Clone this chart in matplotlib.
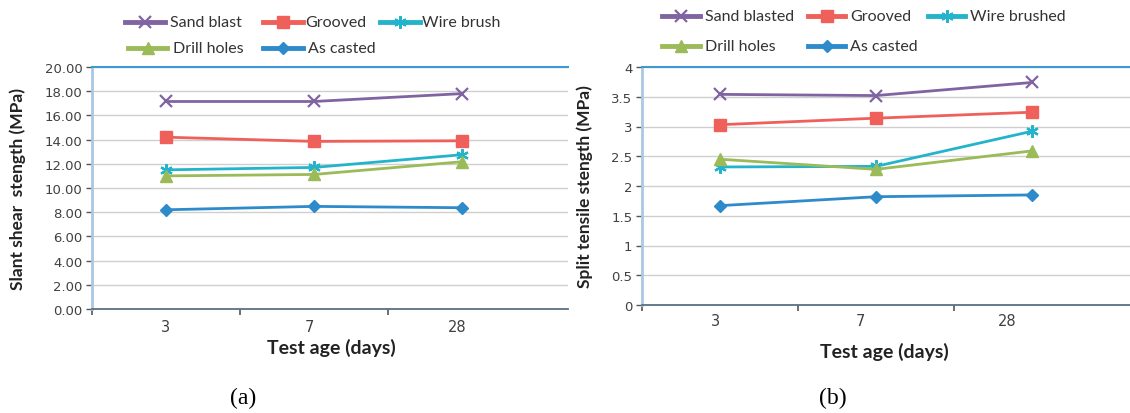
import matplotlib
matplotlib.use("Agg")
import matplotlib.pyplot as plt
from matplotlib.lines import Line2D

plt.rcParams['font.family'] = ['Lato', 'DejaVu Sans']

ages = ["3", "7", "28"]

# (a) Slant shear strength (MPa)
shear_sand = [17.15, 17.15, 17.8]
shear_grooved = [14.2, 13.85, 13.9]
shear_wire = [11.5, 11.7, 12.75]
shear_drill = [11.0, 11.12, 12.17]
shear_cast = [8.2, 8.48, 8.37]
shear_yticks = [0, 2, 4, 6, 8, 10, 12, 14, 16, 18, 20]

# (b) Split tensile strength (MPa)
split_sand = [3.54, 3.52, 3.74]
split_grooved = [3.03, 3.14, 3.24]
split_wire = [2.32, 2.33, 2.92]
split_drill = [2.45, 2.28, 2.59]
split_cast = [1.67, 1.82, 1.85]
split_yticks = [0, 0.5, 1, 1.5, 2, 2.5, 3, 3.5, 4]

labels_a = ["Sand blast", "Grooved", "Wire brush", "Drill holes", "As casted"]
labels_b = ["Sand blasted", "Grooved", "Wire brushed", "Drill holes", "As casted"]

colors = ["#8064A2", "#F0605A", "#23B4CC", "#9BBB59", "#2E8BCB"]
markers = ["x", "s", (6, 2, 0), "^", "D"]
msizes = [8, 9, 9, 9, 6]

W, H = 1130, 414
fig = plt.figure(figsize=(W / 100, H / 100), dpi=100)

def px_axes(x0, x1, ytop, ybot):
    return fig.add_axes([x0 / W, 1 - ybot / H, (x1 - x0) / W, (ybot - ytop) / H])

ax1 = px_axes(92, 568, 68, 310)
ax2 = px_axes(642, 1130, 68, 306)

def legend(labels, slots):
    # slots: (handle x0, handle x1, text x, y) in pixels
    for lab, c, m, ms, (x0, x1, tx, y) in zip(labels, colors, markers, msizes, slots):
        mew = 1.6 if m in ("x", (6, 2, 0)) else 1
        fig.add_artist(Line2D([x0 / W, x1 / W], [1 - y / H, 1 - y / H],
                              transform=fig.transFigure, color=c, lw=3.5))
        fig.add_artist(Line2D([(x0 + x1) / 2 / W], [1 - y / H],
                              transform=fig.transFigure, color=c, marker=m,
                              markersize=ms, markeredgewidth=mew,
                              markeredgecolor=c, markerfacecolor=c, lw=0))
        fig.text(tx / W, 1 - y / H, lab, ha="left", va="center", fontsize=11.5,
                 color="#333333")

def style(ax, series, yticks, fmt, xmax, label_pos, ylabel, ylab_x, xlab_xy, tick_pad):
    xs = [0.5, 1.5, 2.5]
    for vals, c, m, ms in zip(series, colors, markers, msizes):
        mew = 1.6 if m in ("x", (6, 2, 0)) else 1
        ax.plot(xs, vals, color=c, lw=2, marker=m, markersize=ms,
                markeredgewidth=mew, markeredgecolor=c, markerfacecolor=c, zorder=3)
    ax.set_xlim(0, xmax)
    ax.set_ylim(yticks[0], yticks[-1])
    ax.set_yticks(yticks)
    ax.set_yticklabels([fmt(v) for v in yticks], family="DejaVu Sans")
    ax.set_xticks([0, 1, 2])
    ax.set_xticklabels([])
    ax.set_xticks(label_pos, minor=True)
    ax.set_xticklabels(ages, minor=True, family="DejaVu Sans")
    ax.tick_params(axis='x', which='minor', length=0, pad=tick_pad, labelsize=10.5,
                   colors="#404040")
    ax.tick_params(axis='x', which='major', length=4, width=1.2, color="#555555")
    ax.tick_params(axis='y', length=4, width=1, color="#555555", labelsize=9.5,
                   labelcolor="#404040", pad=3)
    ax.grid(axis='y', color="#CFCFCF", lw=1)
    ax.set_axisbelow(True)
    ax.spines["right"].set_visible(False)
    ax.spines["top"].set_color("#3D9AD1")
    ax.spines["top"].set_linewidth(1.5)
    ax.spines["left"].set_color("#A9C8E2")
    ax.spines["left"].set_linewidth(2)
    ax.spines["bottom"].set_color("#5B6F86")
    ax.spines["bottom"].set_linewidth(1.3)
    ax.set_xlabel("Test age (days)", fontweight="bold", fontsize=14, color="#222222")
    ax.xaxis.set_label_coords(*xlab_xy)
    ax.set_ylabel(ylabel, fontweight="bold", fontsize=12.5, color="#222222")
    ax.yaxis.set_label_coords(ylab_x, 0.5)

style(ax1, [shear_sand, shear_grooved, shear_wire, shear_drill, shear_cast],
      shear_yticks, lambda v: f"{v:.2f}", 476 / 148, [0.5, 1.47, 2.47],
      "Slant shear  stength (MPa)", -0.139, (0.502, -0.12), 7)
style(ax2, [split_sand, split_grooved, split_wire, split_drill, split_cast],
      split_yticks, lambda v: f"{v:g}", 488 / 156, [0.47, 1.4, 2.34],
      "Split tensile stength (MPa)", -0.1, (0.496, -0.155), 6)

legend(labels_a, [(125, 165, 170, 23), (263, 303, 305, 23), (380, 420, 422, 23),
                  (128, 167, 173, 49), (263, 303, 308, 49)])
legend(labels_b, [(662, 700, 705, 17), (808, 845, 850, 17), (928, 965, 970, 17),
                  (662, 700, 705, 47), (808, 845, 850, 47)])

fig.text(243 / W, 1 - 398 / H, "(a)", ha="center", va="center",
         fontsize=17, family="Liberation Serif")
fig.text(833 / W, 1 - 398 / H, "(b)", ha="center", va="center",
         fontsize=17, family="Liberation Serif")

fig.savefig("out.png", dpi=100)
